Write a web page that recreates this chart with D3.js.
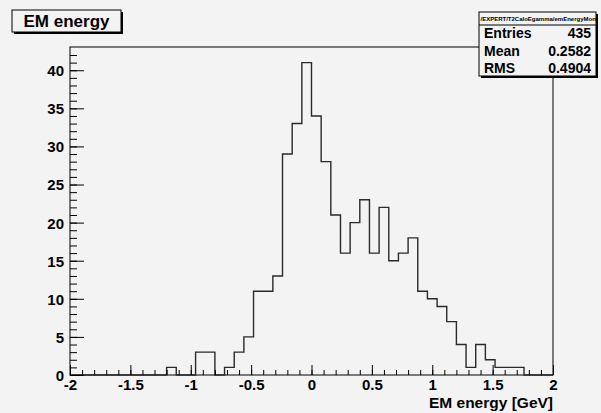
<!DOCTYPE html>
<html>
<head>
<meta charset="utf-8">
<script src="https://cdn.jsdelivr.net/npm/d3@7"></script>
<style>
  body { margin: 0; background: #f3f3f3; }
  svg { display: block; font-family: "Liberation Sans", Arial, sans-serif; font-weight: bold; }
</style>
</head>
<body>
<div id="chart"></div>
<script>
// histogram contents, 50 bins from -2 to 2 GeV
const xRange = [-2, 2];
const binCounts = [
  0, 0, 0, 0, 0, 0, 0, 0, 0, 0,
  1, 0, 0, 3, 3, 0, 1, 3, 5, 11,
  11, 13, 29, 33, 41, 34, 28, 21, 16, 20,
  23, 16, 22, 15, 16, 18, 11, 10, 9, 7,
  4, 1, 4, 2, 1, 1, 1, 0, 0, 0
];
const xMajorTicks = [-2, -1.5, -1, -0.5, 0, 0.5, 1, 1.5, 2];
const xTickLabels = ['-2', '-1.5', '-1', '-0.5', '0', '0.5', '1', '1.5', '2'];
const yMajorTicks = [0, 5, 10, 15, 20, 25, 30, 35, 40];
const yTickLabels = ['0', '5', '10', '15', '20', '25', '30', '35', '40'];
const histTitle = 'EM energy';
const xAxisTitle = 'EM energy [GeV]';
const statsHeader = '/EXPERT/T2CaloEgamma/emEnergyMon';
const statsLabels = ['Entries', 'Mean', 'RMS'];
const statsValues = ['435', '0.2582', '0.4904'];

const W = 601, H = 413;
const frame = { left: 70, right: 553, top: 47, bottom: 375 };
const bg = '#f3f3f3';

const svg = d3.select('#chart').append('svg').attr('width', W).attr('height', H);
svg.append('rect').attr('width', W).attr('height', H).attr('fill', bg);

const x = d3.scaleLinear().domain(xRange).range([frame.left, frame.right]);
// ROOT puts the top at 1.05 * max bin
const y = d3.scaleLinear().domain([0, d3.max(binCounts) * 1.05]).range([frame.bottom, frame.top]);

const binWidth = (xRange[1] - xRange[0]) / binCounts.length;

// frame
svg.append('rect')
  .attr('x', frame.left).attr('y', frame.top)
  .attr('width', frame.right - frame.left).attr('height', frame.bottom - frame.top)
  .attr('fill', bg).attr('stroke', '#000').attr('stroke-width', 1);

// histogram outline
const pts = [[x(xRange[0]), y(0)]];
binCounts.forEach((c, i) => {
  const lo = xRange[0] + i * binWidth;
  pts.push([x(lo), y(c)]);
  pts.push([x(lo + binWidth), y(c)]);
});
pts.push([x(xRange[1]), y(0)]);
svg.append('path')
  .attr('d', d3.line()(pts))
  .attr('fill', 'none')
  .attr('stroke', '#2a2a2a')
  .attr('stroke-width', 1.4);

// x axis: minor ticks then major ticks, drawn inward
const xMinor = d3.range(-2, 2.0001, 0.1);
svg.append('g')
  .attr('transform', `translate(0,${frame.bottom})`)
  .call(d3.axisBottom(x).tickValues(xMinor).tickSize(-5).tickFormat(''))
  .call(g => g.select('.domain').remove());
const xAxis = svg.append('g')
  .attr('transform', `translate(0,${frame.bottom})`)
  .call(d3.axisBottom(x).tickValues(xMajorTicks).tickSize(-10).tickPadding(0)
    .tickFormat((d, i) => xTickLabels[i]))
  .call(g => g.select('.domain').remove());
xAxis.selectAll('.tick text')
  .attr('y', 15).attr('dy', 0)
  .attr('font-size', 15).attr('font-family', '"Liberation Sans", Arial, sans-serif')
  .attr('font-weight', 'bold').attr('fill', '#000');

// y axis
const yMinor = d3.range(0, 43, 1);
svg.append('g')
  .attr('transform', `translate(${frame.left},0)`)
  .call(d3.axisLeft(y).tickValues(yMinor).tickSize(-7).tickFormat(''))
  .call(g => g.select('.domain').remove());
const yAxis = svg.append('g')
  .attr('transform', `translate(${frame.left},0)`)
  .call(d3.axisLeft(y).tickValues(yMajorTicks).tickSize(-14).tickPadding(0)
    .tickFormat((d, i) => yTickLabels[i]))
  .call(g => g.select('.domain').remove());
yAxis.selectAll('.tick text')
  .attr('x', -6).attr('dy', '0.36em')
  .attr('font-size', 15).attr('font-family', '"Liberation Sans", Arial, sans-serif')
  .attr('font-weight', 'bold').attr('fill', '#000');
svg.selectAll('.tick line').attr('stroke', '#000');

// axis title
svg.append('text')
  .attr('x', frame.right).attr('y', 408)
  .attr('text-anchor', 'end').attr('font-size', 15.5)
  .text(xAxisTitle);

// title pave with shadow
const tb = { x: 12, y: 10, w: 109, h: 22 };
svg.append('rect').attr('x', tb.x + 2).attr('y', tb.y + 2).attr('width', tb.w).attr('height', tb.h).attr('fill', '#000');
svg.append('rect').attr('x', tb.x).attr('y', tb.y).attr('width', tb.w).attr('height', tb.h)
  .attr('fill', bg).attr('stroke', '#000').attr('stroke-width', 1);
svg.append('text')
  .attr('x', tb.x + tb.w / 2).attr('y', tb.y + 17)
  .attr('text-anchor', 'middle').attr('font-size', 17)
  .text(histTitle);

// stats box
const sb = { x: 479, y: 12, w: 119, h: 64 };
svg.append('rect').attr('x', sb.x + 2).attr('y', sb.y + 2).attr('width', sb.w - 2).attr('height', sb.h).attr('fill', '#000');
svg.append('rect').attr('x', sb.x).attr('y', sb.y).attr('width', sb.w - 2).attr('height', sb.h)
  .attr('fill', bg).attr('stroke', '#000').attr('stroke-width', 1);
svg.append('line')
  .attr('x1', sb.x).attr('x2', sb.x + sb.w - 2).attr('y1', sb.y + 13).attr('y2', sb.y + 13)
  .attr('stroke', '#000');
svg.append('text')
  .attr('x', sb.x + 1.5).attr('y', sb.y + 9)
  .attr('font-size', 6)
  .text(statsHeader);
statsLabels.forEach((lab, i) => {
  const by = sb.y + 26 + i * 17.5;
  svg.append('text').attr('x', sb.x + 5).attr('y', by).attr('font-size', 14).text(lab);
  svg.append('text').attr('x', sb.x + sb.w - 7).attr('y', by).attr('font-size', 14)
    .attr('text-anchor', 'end').text(statsValues[i]);
});
</script>
</body>
</html>
